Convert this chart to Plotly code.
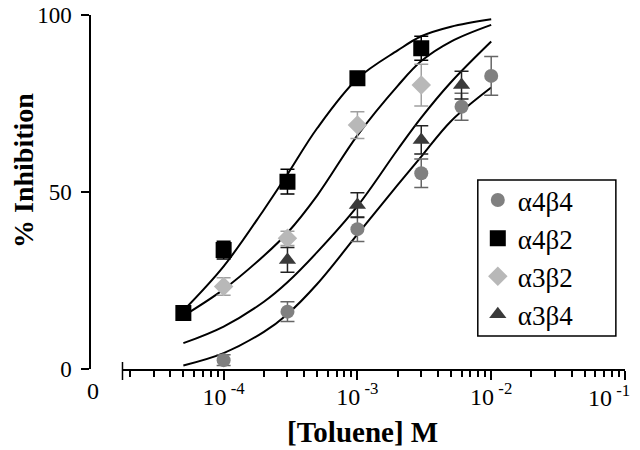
import plotly.graph_objects as go

# -------------------------------------------------
# Data
# -------------------------------------------------
series_names = ["α4β4", "α4β2", "α3β2", "α3β4"]

a4b4_x = [1e-4, 3e-4, 1e-3, 3e-3, 6e-3, 1e-2]
a4b4_y = [2.5, 16.2, 39.5, 55.3, 74.1, 82.8]
a4b4_err = [1.5, 2.8, 3.5, 4.0, 3.8, 5.5]

a4b2_x = [5e-5, 1e-4, 3e-4, 1e-3, 3e-3]
a4b2_y = [15.8, 33.6, 52.9, 82.1, 90.6]
a4b2_err = [1.5, 2.5, 3.5, 1.0, 3.4]

a3b2_x = [1e-4, 3e-4, 1e-3, 3e-3]
a3b2_y = [23.3, 36.9, 68.9, 80.2]
a3b2_err = [2.5, 2.0, 3.8, 5.9]

a3b4_x = [3e-4, 1e-3, 3e-3, 6e-3]
a3b4_y = [30.8, 46.3, 64.7, 80.2]
a3b4_err = [3.5, 3.5, 4.0, 3.9]

# fitted curves
curve_x = [5e-5, 1e-4, 2e-4, 3e-4, 5e-4, 1e-3, 2e-3, 3e-3, 5e-3, 1e-2]
curve_a4b2 = [16.5, 29.0, 45.0, 55.0, 68.0, 82.0, 90.0, 94.0, 96.7, 98.8]
curve_a3b2 = [15.0, 22.5, 32.0, 38.5, 49.0, 66.0, 80.0, 87.0, 92.5, 97.2]
curve_a3b4 = [7.3, 12.0, 19.0, 24.5, 33.0, 46.0, 62.0, 71.0, 81.0, 92.5]
curve_a4b4 = [1.0, 4.5, 10.5, 15.5, 24.0, 38.0, 52.0, 60.0, 70.0, 79.5]

x_ticks = [1e-4, 1e-3, 1e-2, 1e-1]
# last label is drawn separately so it is not clipped at the right edge
x_ticktext = ["10<sup> -4</sup>", "10<sup> -3</sup>", "10<sup> -2</sup>", ""]
last_ticktext = "10<sup> -1</sup>"
y_ticks = [0, 50, 100]

FONT = "Liberation Serif"

# plot area on screen: left 90, right 617, top 15, bottom 369
# (the page body adds an 8px offset, so the figure itself is 632x442)
PW, PH = 527, 354


def px_x(p):
    return (p - 90) / PW


def px_y(p):
    return (369 - p) / PH


# -------------------------------------------------
# Figure
# -------------------------------------------------
fig = go.Figure()

for cy in [curve_a4b2, curve_a3b2, curve_a3b4, curve_a4b4]:
    fig.add_trace(go.Scatter(
        x=curve_x, y=cy, mode="lines",
        line=dict(color="black", width=2, shape="spline"),
        showlegend=False, hoverinfo="skip"
    ))

points = [
    (a4b4_x, a4b4_y, a4b4_err, "circle", "#808080", 14, "#666666"),
    (a4b2_x, a4b2_y, a4b2_err, "square", "#000000", 16, "#000000"),
    (a3b2_x, a3b2_y, a3b2_err, "diamond", "#b8b8b8", 15, "#a0a0a0"),
    (a3b4_x, a3b4_y, a3b4_err, "triangle-up", "#3a3a3a", 15, "#222222"),
]

for name, (px_, py_, pe, sym, col, size, ecol) in zip(series_names, points):
    fig.add_trace(go.Scatter(
        x=px_, y=py_, mode="markers", name=name,
        marker=dict(symbol=sym, color=col, size=size, line=dict(width=0)),
        error_y=dict(type="data", array=pe, color=ecol, thickness=1.5, width=7)
    ))

minor_vals = [m * 10 ** e for e in range(-5, -1) for m in range(2, 10)]

fig.update_layout(
    width=632,
    height=442,
    plot_bgcolor="white",
    paper_bgcolor="white",
    margin=dict(l=82, r=15, t=7, b=81),
    font=dict(family=FONT, color="black", size=24),
    xaxis=dict(
        type="log",
        domain=[px_x(122), 1],
        range=[-4.756, -1],
        tickmode="array",
        tickvals=x_ticks,
        ticktext=x_ticktext,
        showline=True, linecolor="black", linewidth=1.5,
        ticks="outside", ticklen=9, tickwidth=1.5, tickcolor="black",
        minor=dict(tickmode="array", tickvals=minor_vals, ticks="outside",
                   ticklen=6, tickwidth=1.5, tickcolor="black"),
        ticklabelstandoff=-4,
        ticklabeloverflow="allow",
        automargin=False,
        showgrid=False, zeroline=False,
        tickfont=dict(size=24, family=FONT),
    ),
    yaxis=dict(
        range=[0, 100],
        anchor="free",
        position=0,
        tickvals=y_ticks,
        showline=True, linecolor="black", linewidth=1.5,
        ticks="outside", ticklen=8, tickwidth=1.5, tickcolor="black",
        ticklabelstandoff=5,
        ticklabeloverflow="allow",
        automargin=False,
        showgrid=False, zeroline=False,
        tickfont=dict(size=23, family=FONT),
    ),
    legend=dict(
        x=px_x(472), y=px_y(176),
        xanchor="left", yanchor="top",
        bgcolor="rgba(0,0,0,0)", borderwidth=0,
        font=dict(size=27, family=FONT),
    ),
    showlegend=True,
)

# legend frame
fig.add_shape(
    type="rect", xref="paper", yref="paper",
    x0=px_x(472), x1=px_x(608), y0=px_y(336), y1=px_y(180),
    line=dict(color="black", width=1.5), fillcolor="rgba(0,0,0,0)", layer="below"
)

# axis titles, last x tick label and broken-axis "0"
fig.add_annotation(
    text="<b>% Inhibition</b>", textangle=-90,
    xref="paper", yref="paper", x=px_x(24), y=px_y(170),
    xanchor="center", yanchor="middle",
    showarrow=False, font=dict(size=28, family=FONT)
)
fig.add_annotation(
    text="<b>[Toluene] M</b>",
    xref="paper", yref="paper", x=px_x(358), y=px_y(432),
    xanchor="center", yanchor="middle",
    showarrow=False, font=dict(size=29, family=FONT)
)
fig.add_annotation(
    text=last_ticktext,
    xref="paper", yref="paper", x=px_x(624), y=px_y(396),
    xanchor="right", yanchor="middle",
    showarrow=False, font=dict(size=24, family=FONT)
)
fig.add_annotation(
    text="0",
    xref="paper", yref="paper", x=px_x(93), y=px_y(391),
    xanchor="center", yanchor="middle",
    showarrow=False, font=dict(size=24, family=FONT)
)

# end cap of the x axis
fig.add_shape(
    type="line", xref="paper", yref="paper",
    x0=px_x(122), x1=px_x(122), y0=px_y(362), y1=px_y(380),
    line=dict(color="black", width=1.5)
)

fig.write_html("out.html")
